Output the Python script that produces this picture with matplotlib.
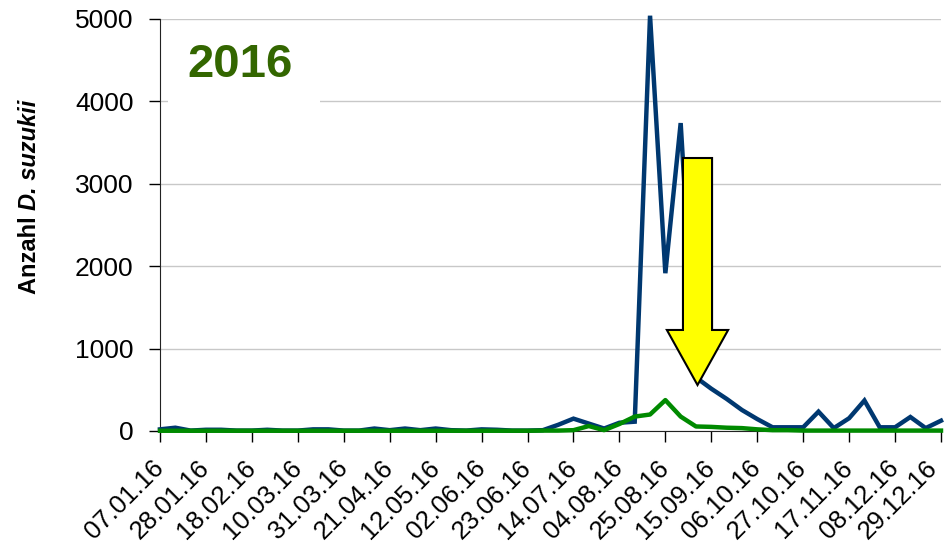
import matplotlib
matplotlib.use("Agg")
import matplotlib.pyplot as plt
import matplotlib.transforms as mtransforms
from matplotlib.patches import FancyArrow, Rectangle

# ---- data ----
weeks = list(range(52))  # weekly counts, 07.01.16 ... 29.12.16
blue_counts = [20, 40, 5, 15, 15, 5, 5, 15, 5, 5, 20, 20, 5, 5, 30, 10, 30, 10, 30, 10,
               5, 20, 15, 5, 5, 10, 75, 150, 90, 30, 100, 113, 5040, 1915, 3737, 650,
               513, 390, 255, 145, 45, 45, 45, 235, 35, 155, 370, 45, 45, 170, 35, 125]
green_counts = [3, 3, 3, 3, 3, 3, 3, 3, 3, 3, 3, 3, 3, 3, 3, 3, 3, 3, 3, 3,
                3, 3, 3, 3, 3, 5, 5, 10, 60, 10, 85, 175, 200, 375, 175, 55,
                50, 40, 35, 20, 10, 10, 5, 5, 5, 5, 5, 5, 5, 5, 5, 5]
tick_weeks = list(range(0, 52, 3))
tick_labels = ["07.01.16", "28.01.16", "18.02.16", "10.03.16", "31.03.16", "21.04.16",
               "12.05.16", "02.06.16", "23.06.16", "14.07.16", "04.08.16", "25.08.16",
               "15.09.16", "06.10.16", "27.10.16", "17.11.16", "08.12.16", "29.12.16"]
y_ticks = [0, 1000, 2000, 3000, 4000, 5000]
year_text = "2016"
# arrow annotation (data units: week index, count)
arrow_x, arrow_top, arrow_tip, arrow_head_base = 35.1, 3313, 558, 1226

plt.rcParams['font.family'] = ['Liberation Sans', 'DejaVu Sans']

W, H = 946, 551
fig = plt.figure(figsize=(W / 100, H / 100), dpi=100)
ax = fig.add_axes([160 / W, 1 - 431 / H, (941 - 160) / W, (431 - 19) / H])

ax.plot(weeks, blue_counts, color='#003870', lw=3.2, solid_joinstyle='miter', clip_on=False, zorder=3)
ax.plot(weeks, green_counts, color='#008a00', lw=3.2, clip_on=False, zorder=4)

ax.set_xlim(0, 51)
ax.set_ylim(0, 5000)
ax.set_yticks(y_ticks)
ax.set_yticklabels([str(v) for v in y_ticks], fontsize=19)
ax.set_xticks(tick_weeks)
ax.set_xticklabels(tick_labels, fontsize=18.5, rotation=45, ha='right', va='center',
                   rotation_mode='anchor')
ax.tick_params(axis='y', direction='out', length=8, width=1, pad=11)
ax.tick_params(axis='x', direction='out', length=8, width=1, pad=16)
# nudge the last label so it stays inside the figure
last = ax.get_xticklabels()[-1]
last.set_transform(last.get_transform() + mtransforms.ScaledTranslation(-7 / 100, 0, fig.dpi_scale_trans))
ax.yaxis.grid(True, color='#c8c8c8', lw=1)
ax.set_axisbelow(True)
for s in ['top', 'right']:
    ax.spines[s].set_visible(False)
ax.spines['left'].set_color('#222222')
ax.spines['bottom'].set_color('#222222')
ax.spines['left'].set_zorder(2.6)

# white panel behind year label (covers gridline)
ax.add_patch(Rectangle((0.52, 3930), 9.95, 930, facecolor='white', edgecolor='none', zorder=2.5))
ax.text(5.2, 4440, year_text, fontsize=34, fontweight='bold', color='#336600',
        ha='center', va='center', zorder=5)

arrow = FancyArrow(arrow_x, arrow_top, 0, arrow_tip - arrow_top, width=1.9, head_width=4.0,
                   head_length=arrow_head_base - arrow_tip, length_includes_head=True,
                   facecolor='#ffff00', edgecolor='black', lw=1.5, zorder=6)
ax.add_patch(arrow)

# y label: "Anzahl " bold + "D. suzukii" bold italic
t1 = fig.text(30 / W, 1 - 294 / H, "Anzahl ", rotation=90, fontsize=17, fontweight='bold',
              ha='center', va='bottom')
fig.canvas.draw()
ax.annotate("D. suzukii", xy=(0.5, 1), xycoords=t1, rotation=90, fontsize=17,
            fontweight='bold', fontstyle='italic', ha='center', va='bottom',
            annotation_clip=False)

fig.savefig("out.png", dpi=100)
